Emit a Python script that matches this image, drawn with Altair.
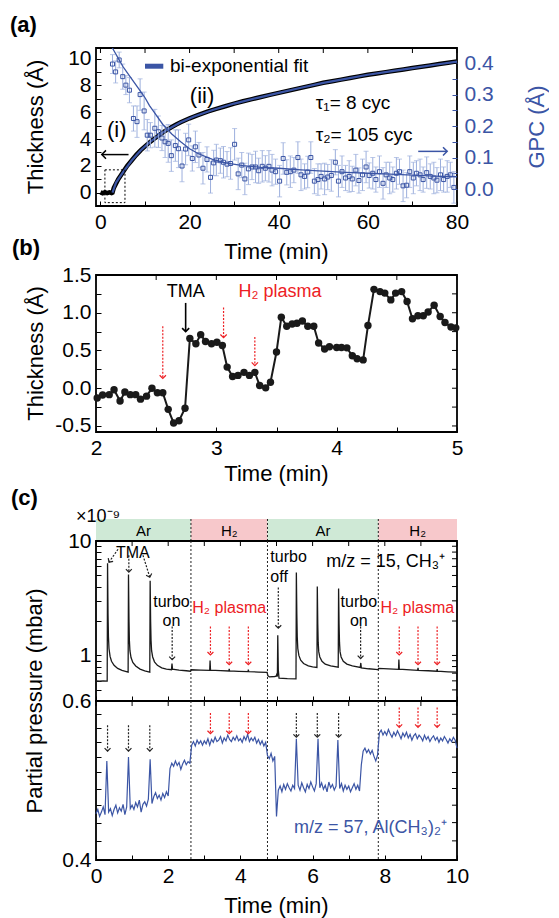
import altair as alt
import pandas as pd

FONT = "Liberation Sans"
BLUE = "#3b55a5"
LBLUE = "#9cafdd"
RED = "#ed2024"
GREEN = "#cfe9d6"
PINK = "#f7c8cb"
CHEV = "M-1,-1L0,0L1,-1"
W = 361
HA, HB, HS, HU, HL = 158, 157, 22, 160, 159
GAP1, GAP2 = 69, 87

# ---------------- (a) data ----------------
a_thick_t = [0, 0.5, 1, 1.5, 2, 2.5, 2.7, 3, 4, 5, 6, 7, 8, 9, 10, 11, 12, 13, 14, 15, 16, 17, 18,
             19, 20, 22, 24, 26, 28, 30, 32, 34, 36, 38, 40, 42, 44, 46, 48, 50, 52, 54, 56, 58,
             60, 62, 64, 66, 68, 70, 72, 74, 76, 78, 80]
a_thick_v = [0.02, -0.05, 0.03, -0.04, 0.02, -0.03, 0.0, 0.35, 1.0, 1.5, 2.0, 2.4, 2.8, 3.15, 3.45,
             3.75, 4.0, 4.25, 4.5, 4.7, 4.9, 5.08, 5.25, 5.4, 5.55, 5.8, 6.05, 6.25, 6.45, 6.65,
             6.82, 6.98, 7.14, 7.3, 7.45, 7.6, 7.75, 7.9, 8.05, 8.2, 8.32, 8.44, 8.56, 8.68, 8.8,
             8.9, 9.0, 9.1, 9.2, 9.3, 9.4, 9.5, 9.6, 9.7, 9.8]
a_fit_t = [2.7, 3.5, 5, 7, 9, 11, 13, 15, 18, 21, 25, 30, 35, 40, 45, 50, 55, 60, 65, 70, 75, 80]
a_fit_v = [0.0, 0.75, 1.5, 2.4, 3.15, 3.75, 4.25, 4.7, 5.25, 5.68, 6.15, 6.65, 7.06, 7.45, 7.83,
           8.2, 8.5, 8.8, 9.05, 9.3, 9.55, 9.78]
a_gpc_t = [2.7, 3.4, 4.2, 5.0, 5.7, 6.5, 7.4, 8.2, 8.9, 9.8,
           10.5, 11.2, 12.2, 13.0, 13.8, 14.5, 15.2, 15.9, 16.8, 17.5,
           18.3, 19.1, 19.8, 20.6, 21.3, 22.1, 23.0, 23.9, 24.7, 25.4,
           26.0, 26.9, 27.6, 28.4, 29.2, 30.1, 30.9, 31.7, 32.4, 33.2,
           34.0, 34.8, 35.5, 36.3, 37.0, 37.8, 38.5, 39.3, 40.2, 41.0,
           41.8, 42.6, 43.4, 44.3, 45.0, 45.8, 46.5, 47.2, 48.0, 48.8,
           49.5, 50.3, 51.0, 51.8, 52.7, 53.4, 54.2, 55.0, 55.8, 56.5,
           57.3, 58.0, 58.8, 59.6, 60.3, 61.1, 61.8, 62.6, 63.4, 64.1,
           64.9, 65.6, 66.4, 67.1, 67.9, 68.7, 69.4, 70.2, 70.9, 71.7,
           72.4, 73.2, 74.0, 74.8, 75.5, 76.3, 77.0, 77.8, 78.5, 79.3]
a_gpc_v = [0.397, 0.372, 0.41, 0.357, 0.33, 0.314, 0.224, 0.214, 0.30, 0.248,
           0.171, 0.171, 0.193, 0.182, 0.162, 0.15, 0.145, 0.106, 0.138, 0.128,
           0.073, 0.127, 0.156, 0.097, 0.134, 0.108, 0.066, 0.094, 0.037, 0.083,
           0.092, 0.09, 0.085, 0.079, 0.081, 0.142, 0.048, 0.076, 0.032, 0.064,
           0.07, 0.07, 0.058, 0.072, 0.066, 0.072, 0.06, 0.055, 0.025, 0.097,
           0.053, 0.055, 0.06, 0.10, 0.045, 0.04, 0.054, 0.10, 0.025, 0.03,
           0.04, 0.032, 0.038, 0.043, 0.085, 0.025, 0.055, 0.035, 0.04, 0.032,
           0.06, 0.027, 0.045, 0.07, 0.043, 0.05, 0.03, 0.055, 0.018, 0.045,
           0.035, 0.03, 0.05, 0.055, 0.01, 0.012, 0.055, 0.035, 0.05, 0.045,
           0.03, 0.052, 0.04, 0.035, 0.028, 0.045, 0.03, 0.04, 0.045, 0.005]
a_gpc_err = [0.03, 0.035, 0.025, 0.04, 0.03, 0.04, 0.04, 0.05, 0.05, 0.06,
             0.05, 0.04, 0.06, 0.05, 0.04, 0.05, 0.06, 0.05, 0.05, 0.06,
             0.05, 0.05, 0.05, 0.04, 0.05, 0.04, 0.05, 0.04, 0.05, 0.04,
             0.05, 0.04, 0.05, 0.04, 0.05, 0.05, 0.05, 0.04, 0.05, 0.05,
             0.04, 0.05, 0.04, 0.05, 0.04, 0.05, 0.05, 0.04, 0.05, 0.05,
             0.04, 0.05, 0.04, 0.05, 0.05, 0.04, 0.05, 0.05, 0.04, 0.05,
             0.04, 0.05, 0.04, 0.05, 0.04, 0.05, 0.05, 0.04, 0.05, 0.04,
             0.05, 0.04, 0.05, 0.05, 0.04, 0.05, 0.04, 0.05, 0.05, 0.04,
             0.05, 0.04, 0.05, 0.04, 0.05, 0.04, 0.05, 0.05, 0.04, 0.05,
             0.04, 0.05, 0.04, 0.05, 0.04, 0.05, 0.04, 0.05, 0.04, 0.05]
a_gfit_t = [2.6, 3, 4, 5, 6, 7, 8, 9, 10, 11, 12, 14, 16, 18, 20, 22, 25, 28, 32, 36, 40, 45, 50,
            55, 60, 65, 70, 75, 80]
a_gfit_v = [0.45, 0.44, 0.415, 0.39, 0.37, 0.35, 0.33, 0.31, 0.29, 0.265, 0.245, 0.205, 0.175,
            0.15, 0.128, 0.112, 0.095, 0.083, 0.074, 0.069, 0.066, 0.061, 0.057, 0.053, 0.05,
            0.047, 0.044, 0.041, 0.039]
a_xticks = [0, 10, 20, 30, 40, 50, 60, 70, 80]

# ---------------- (b) data ----------------
b_t = [2.01, 2.055, 2.11, 2.15, 2.20, 2.24, 2.285, 2.33, 2.37, 2.42, 2.465, 2.51, 2.555, 2.60,
       2.645, 2.69, 2.74, 2.78, 2.83, 2.87, 2.91, 2.96, 3.005, 3.05, 3.09, 3.135, 3.18, 3.23,
       3.275, 3.32, 3.36, 3.41, 3.45, 3.50, 3.54, 3.585, 3.63, 3.67, 3.715, 3.76, 3.81, 3.85,
       3.90, 3.94, 4.00, 4.04, 4.085, 4.13, 4.17, 4.22, 4.26, 4.31, 4.36, 4.40, 4.45, 4.49,
       4.54, 4.585, 4.63, 4.675, 4.72, 4.76, 4.81, 4.86, 4.90, 4.95, 4.99]
b_v = [-0.13, -0.09, -0.085, -0.02, -0.17, -0.05, -0.085, -0.085, -0.145, -0.105, 0.0, -0.06,
       -0.06, -0.28, -0.46, -0.43, -0.265, 0.66, 0.59, 0.71, 0.62, 0.59, 0.61, 0.565, 0.28,
       0.155, 0.17, 0.21, 0.17, 0.21, 0.035, 0.005, 0.08, 0.48, 0.94, 0.82, 0.85, 0.86, 0.89,
       0.82, 0.82, 0.60, 0.52, 0.55, 0.54, 0.54, 0.535, 0.43, 0.39, 0.375, 0.83, 1.31, 1.28,
       1.26, 1.17, 1.26, 1.28, 1.15, 0.92, 0.96, 0.96, 1.01, 1.10, 0.95, 0.87, 0.81, 0.80]
b_red_t = [2.555, 3.06, 3.32]
b_red_top = [0.82, 1.07, 0.68]
b_red_tip = [0.13, 0.67, 0.30]
b_xticks = [2, 2.5, 3, 3.5, 4, 4.5, 5]
b_yticks = [-0.5, -0.25, 0, 0.25, 0.5, 0.75, 1.0, 1.25, 1.5]

# ---------------- (c) data ----------------
c_band_start = [0, 2.63, 4.75, 7.82]
c_band_end = [2.63, 4.75, 7.82, 10]
c_band_gas = ["Ar", "H₂", "Ar", "H₂"]
c_switch = [2.63, 4.75, 7.82]
c_xticks = [0, 1, 2, 3, 4, 5, 6, 7, 8, 9, 10]
c_up_yticks = [0.4, 0.5, 0.6, 0.7, 0.8, 0.9, 1, 2, 3, 4, 5, 6, 7, 8, 9, 10]
c_lo_yticks = [0.4, 0.42, 0.44, 0.46, 0.48, 0.5, 0.52, 0.54, 0.56, 0.58, 0.6]

c15_points = [(0.0, 0.60), (0.1, 0.595), (0.2, 0.60), (0.31, 0.597), (0.32, 6.4), (0.333, 2.3),
              (0.345, 1.45), (0.36, 1.15), (0.39, 0.98), (0.43, 0.89), (0.5, 0.82), (0.6, 0.77),
              (0.72, 0.74), (0.89, 0.715), (0.90, 5.1), (0.913, 2.1), (0.925, 1.35), (0.94, 1.1),
              (0.97, 0.96), (1.02, 0.87), (1.1, 0.81), (1.22, 0.76), (1.35, 0.735), (1.49, 0.715),
              (1.50, 4.5), (1.513, 2.0), (1.525, 1.35), (1.54, 1.1), (1.57, 0.97), (1.62, 0.88),
              (1.7, 0.82), (1.82, 0.78), (1.95, 0.76), (2.09, 0.75), (2.105, 0.85), (2.12, 0.76),
              (2.3, 0.745), (2.5, 0.735), (2.62, 0.728), (2.64, 0.75), (2.9, 0.745), (3.15, 0.74),
              (3.16, 0.905), (3.172, 0.745), (3.45, 0.737), (3.68, 0.732), (3.69, 0.762),
              (3.70, 0.732), (3.95, 0.727), (4.21, 0.722), (4.22, 0.752), (4.23, 0.722),
              (4.5, 0.716), (4.74, 0.712), (4.76, 0.665), (4.8, 0.65), (4.95, 0.655), (4.99, 0.66),
              (5.01, 0.685), (5.025, 0.655), (5.035, 1.5), (5.05, 0.75), (5.07, 0.635),
              (5.3, 0.627), (5.54, 0.625), (5.55, 5.3), (5.563, 2.3), (5.575, 1.45), (5.59, 1.15),
              (5.62, 1.0), (5.67, 0.91), (5.75, 0.85), (5.88, 0.81), (6.0, 0.795), (6.12, 0.785),
              (6.13, 4.0), (6.143, 1.9), (6.155, 1.3), (6.17, 1.08), (6.2, 0.97), (6.26, 0.89),
              (6.35, 0.84), (6.5, 0.81), (6.71, 0.79), (6.72, 3.85), (6.733, 1.9), (6.745, 1.3),
              (6.76, 1.08), (6.79, 0.97), (6.85, 0.89), (6.95, 0.84), (7.1, 0.81), (7.32, 0.785),
              (7.335, 0.86), (7.35, 0.78), (7.55, 0.765), (7.81, 0.752), (7.83, 0.77), (8.1, 0.762),
              (8.38, 0.756), (8.39, 0.92), (8.402, 0.758), (8.7, 0.748), (8.91, 0.742),
              (8.92, 0.78), (8.93, 0.742), (9.2, 0.735), (9.44, 0.728), (9.45, 0.76),
              (9.46, 0.728), (9.75, 0.72), (10.0, 0.715)]

c57_step = 0.05
c57_p = [0.450, 0.455, 0.447, 0.452, 0.458, 0.449, 0.515, 0.452, 0.456, 0.448,
         0.455, 0.460, 0.451, 0.457, 0.453, 0.461, 0.449, 0.458, 0.520, 0.456,
         0.460, 0.455, 0.463, 0.458, 0.466, 0.452, 0.461, 0.464, 0.459, 0.467,
         0.517, 0.462, 0.470, 0.475, 0.468, 0.472, 0.466, 0.474, 0.469, 0.476,
         0.471, 0.505, 0.512, 0.508, 0.515, 0.509, 0.513, 0.504, 0.511, 0.516,
         0.510, 0.514, 0.512, 0.536, 0.541, 0.535, 0.543, 0.538, 0.542, 0.536,
         0.542, 0.538, 0.545, 0.536, 0.544, 0.540, 0.547, 0.541, 0.543, 0.548,
         0.539, 0.546, 0.542, 0.550, 0.544, 0.541, 0.547, 0.543, 0.549, 0.542,
         0.545, 0.540, 0.548, 0.543, 0.551, 0.541, 0.546, 0.542, 0.547, 0.539,
         0.544, 0.537, 0.542, 0.535, 0.540, 0.522, 0.518, 0.525, 0.515, 0.521,
         0.447, 0.478, 0.483, 0.476, 0.485, 0.479, 0.486, 0.481, 0.477, 0.484,
         0.480, 0.545, 0.484, 0.478, 0.487, 0.481, 0.476, 0.485, 0.480, 0.488,
         0.482, 0.477, 0.486, 0.545, 0.481, 0.487, 0.479, 0.484, 0.476, 0.488,
         0.481, 0.485, 0.478, 0.483, 0.543, 0.480, 0.486, 0.477, 0.484, 0.479,
         0.483, 0.476, 0.481, 0.486, 0.479, 0.484, 0.477, 0.510, 0.528, 0.532,
         0.526, 0.530, 0.524, 0.529, 0.521, 0.515, 0.523, 0.553, 0.557, 0.550,
         0.555, 0.550, 0.558, 0.552, 0.547, 0.554, 0.549, 0.556, 0.551, 0.545,
         0.553, 0.548, 0.554, 0.546, 0.551, 0.543, 0.549, 0.552, 0.545, 0.550,
         0.547, 0.542, 0.550, 0.544, 0.548, 0.541, 0.546, 0.549, 0.543, 0.547,
         0.540, 0.546, 0.542, 0.548, 0.544, 0.539, 0.545, 0.541, 0.547, 0.543,
         0.532]

# ---------------- helpers ----------------
ONE = pd.DataFrame({"k": [0]})


def lin(dom):
    return alt.Scale(domain=dom, nice=False, zero=False)


def logs(dom):
    return alt.Scale(type="log", domain=dom, nice=False)


def axis(values, orient, expr=None, color="black", pad=5):
    kw = dict(values=values, orient=orient, offset=-5, tickSize=5, tickWidth=1, tickColor=color,
              domain=False, grid=False, title=None)
    if expr is None:
        kw["labels"] = False
    else:
        kw.update(labelExpr=expr, labelFont=FONT, labelFontSize=21, labelColor=color,
                  labelPadding=pad, labelFlush=False, labelOverlap=False, labelBound=False)
    return alt.Axis(**kw)


def ptext(s, x, y, size=22, angle=0, color="black", weight="normal", align="center",
          baseline="middle"):
    return alt.Chart(ONE).mark_text(text=s, font=FONT, fontSize=size, angle=angle, color=color,
                                    fontWeight=weight, align=align, baseline=baseline).encode(
        x=alt.value(x), y=alt.value(y))


def dtext(df, X, Y, size, color="black", align="center"):
    return alt.Chart(df).mark_text(font=FONT, fontSize=size, color=color, align=align,
                                   baseline="middle").encode(x=X("x"), y=Y("y"), text="label:N")


def arrows(df, X, Y, color, dash=True, angle=0, size=45, sw=1.2, horizontal=False):
    mk = dict(color=color, strokeWidth=sw)
    if dash:
        mk["strokeDash"] = [2, 1.5]
    if horizontal:
        enc = dict(x=X("x"), x2=alt.X2("x2"), y=Y("y"))
        head = dict(x=X("x2"), y=Y("y"))
    else:
        enc = dict(x=X("x"), x2=alt.X2("x2"), y=Y("y"), y2=alt.Y2("y2"))
        head = dict(x=X("x2"), y=Y("y2"))
    rule = alt.Chart(df).mark_rule(**mk).encode(**enc)
    tip = alt.Chart(df).mark_point(shape=CHEV, filled=False, color=color, size=size,
                                   strokeWidth=sw, opacity=1, angle=angle).encode(**head)
    return rule + tip


def top_ticks(X, vals, n=5):
    return alt.Chart(pd.DataFrame({"x": vals})).mark_rule(color="black", strokeWidth=1).encode(
        x=X("x"), y=alt.value(0), y2=alt.value(n))


def right_ticks(Y, vals, n=5):
    return alt.Chart(pd.DataFrame({"y": vals})).mark_rule(color="black", strokeWidth=1).encode(
        y=Y("y"), x=alt.value(W - n), x2=alt.value(W))


def spacer(h):
    return alt.Chart(ONE).mark_text(text="").encode(
        x=alt.value(0), y=alt.value(0)).properties(
        width=W, height=h, view=alt.ViewBackground(strokeWidth=0))


# ---------------- panel (a) ----------------
AXA_X = axis(a_xticks, "bottom", "datum.value % 20 == 0 ? datum.label : ''")
AXA_Y = axis(list(range(0, 11)), "left", "datum.value % 2 == 0 ? datum.label : ''")
AXA_G = axis([0, 0.05, 0.1, 0.15, 0.2, 0.25, 0.3, 0.35, 0.4], "right",
             "abs(datum.value*10 - round(datum.value*10)) < 0.001 ? format(datum.value, '.1f') : ''",
             color=BLUE, pad=7)


def XA(f):
    return alt.X(f, type="quantitative", scale=lin([-1, 80]), axis=AXA_X)


def YA(f):
    return alt.Y(f, type="quantitative", scale=lin([-1, 10.8]), axis=AXA_Y)


def GA(f):
    return alt.Y(f, type="quantitative", scale=lin([-0.054, 0.448]), axis=AXA_G)


df_thick = pd.DataFrame({"t": a_thick_t, "v": a_thick_v})
df_fit = pd.DataFrame({"t": a_fit_t, "v": a_fit_v})
df_gpc = pd.DataFrame({"t": a_gpc_t, "g": a_gpc_v, "e": a_gpc_err})
df_gpc["lo"] = df_gpc["g"] - df_gpc["e"]
df_gpc["hi"] = df_gpc["g"] + df_gpc["e"]
df_gfit = pd.DataFrame({"t": a_gfit_t, "g": a_gfit_v})

a_box = pd.DataFrame({"x1": [1.0], "x2": [5.5], "y1": [-0.75], "y2": [1.7]})
a_leg = pd.DataFrame({"x": [10.0], "x2": [14.1], "y": [9.44]})
a_leg_txt = pd.DataFrame({"x": [15.6], "y": [9.44], "label": ["bi-exponential fit"]})
a_roman = pd.DataFrame({"x": [3.65, 22.8], "y": [4.66, 7.2], "label": ["(i)", "(ii)"]})
a_tau = pd.DataFrame({"x": [48.3, 48.3], "y": [6.7, 4.33],
                      "label": ["τ₁= 8 cyc", "τ₂= 105 cyc"]})
a_arr_l = pd.DataFrame({"x": [6.3], "x2": [0.3], "y": [2.84]})
a_arr_r = pd.DataFrame({"x": [71.3], "x2": [77.8], "y": [3.08]})

thick_layer = alt.layer(
    alt.Chart(df_thick).mark_line(color="black", strokeWidth=4.5).encode(x=XA("t"), y=YA("v")),
    alt.Chart(df_fit).mark_line(color=BLUE, strokeWidth=2.2).encode(x=XA("t"), y=YA("v")),
    alt.Chart(a_box).mark_rect(fillOpacity=0, stroke="black", strokeDash=[2, 2],
                               strokeWidth=1).encode(x=XA("x1"), x2=alt.X2("x2"),
                                                      y=YA("y1"), y2=alt.Y2("y2")),
    alt.Chart(a_leg).mark_rule(color=BLUE, strokeWidth=5).encode(x=XA("x"), x2=alt.X2("x2"),
                                                                 y=YA("y")),
    top_ticks(XA, a_xticks),
    dtext(a_leg_txt, XA, YA, 19, align="left"),
    dtext(a_roman, XA, YA, 22),
    dtext(a_tau, XA, YA, 19, align="left"),
    arrows(a_arr_l, XA, YA, "black", dash=False, angle=90, size=70, sw=1.5, horizontal=True),
    arrows(a_arr_r, XA, YA, BLUE, dash=False, angle=270, size=70, sw=1.5, horizontal=True),
    ptext("(a)", -86, -23, size=22, weight="bold", align="left"),
    ptext("Thickness (Å)", -60, HA / 2, angle=270),
    ptext("GPC (Å)", W + 80, HA / 2, angle=270, color=BLUE),
    ptext("Time (min)", W / 2, HA + 46),
)
gpc_layer = alt.layer(
    alt.Chart(df_gpc).mark_rule(color=LBLUE, strokeWidth=1).encode(x=XA("t"), y=GA("lo"),
                                                                   y2=alt.Y2("hi")),
    alt.Chart(df_gpc).mark_tick(orient="horizontal", size=5, thickness=1, color=LBLUE).encode(
        x=XA("t"), y=GA("lo")),
    alt.Chart(df_gpc).mark_tick(orient="horizontal", size=5, thickness=1, color=LBLUE).encode(
        x=XA("t"), y=GA("hi")),
    alt.Chart(df_gpc).mark_point(shape="square", filled=False, size=16, strokeWidth=1,
                                 color=BLUE, opacity=1).encode(x=XA("t"), y=GA("g")),
    alt.Chart(df_gfit).mark_line(color=BLUE, strokeWidth=1.3, clip=True).encode(x=XA("t"),
                                                                               y=GA("g")),
)
panel_a = alt.layer(thick_layer, gpc_layer).resolve_scale(y="independent").properties(
    width=W, height=HA)

# ---------------- panel (b) ----------------
AXB_X = axis(b_xticks, "bottom", "datum.value % 1 == 0 ? format(datum.value, 'd') : ''")
AXB_Y = axis(b_yticks, "left",
             "abs(datum.value*2 - round(datum.value*2)) < 0.001 ? "
             "(datum.value < 0 ? '-' : '') + format(abs(datum.value), '.1f') : ''")


def XB(f):
    return alt.X(f, type="quantitative", scale=lin([2, 5]), axis=AXB_X)


def YB(f):
    return alt.Y(f, type="quantitative", scale=lin([-0.58, 1.5]), axis=AXB_Y)


df_b = pd.DataFrame({"t": b_t, "v": b_v})
b_red = pd.DataFrame({"x": b_red_t, "x2": b_red_t, "y": b_red_top, "y2": b_red_tip})
b_tma = pd.DataFrame({"x": [2.745], "x2": [2.745], "y": [1.13], "y2": [0.75]})
b_lbl1 = pd.DataFrame({"x": [2.745], "y": [1.27], "label": ["TMA"]})
b_lbl2 = pd.DataFrame({"x": [3.53], "y": [1.27], "label": ["H₂ plasma"]})

panel_b = alt.layer(
    top_ticks(XB, b_xticks),
    right_ticks(YB, b_yticks),
    alt.Chart(df_b).mark_line(color="#1a1a1a", strokeWidth=2).encode(x=XB("t"), y=YB("v")),
    alt.Chart(df_b).mark_point(filled=True, color="#1a1a1a", size=55, opacity=1).encode(
        x=XB("t"), y=YB("v")),
    arrows(b_red, XB, YB, RED, dash=True, size=40),
    arrows(b_tma, XB, YB, "black", dash=False, size=50, sw=1.6),
    dtext(b_lbl1, XB, YB, 18),
    dtext(b_lbl2, XB, YB, 18, color=RED),
    ptext("(b)", -84, -27, size=22, weight="bold", align="left"),
    ptext("Thickness (Å)", -60, HB / 2, angle=270),
    ptext("Time (min)", W / 2, HB + 42),
).properties(width=W, height=HB)

# ---------------- panel (c) ----------------
df_band = pd.DataFrame({"s": c_band_start, "e": c_band_end, "gas": c_band_gas})
df_band["m"] = (df_band["s"] + df_band["e"]) / 2
df_sw = pd.DataFrame({"t": c_switch})


def XS(f):
    return alt.X(f, type="quantitative", scale=lin([0, 10]), axis=None)


AXC_XU = axis(c_xticks, "bottom")
AXC_XL = axis(c_xticks, "bottom", "datum.value % 2 == 0 ? datum.label : ''")
AXC_YU = axis(c_up_yticks, "left", "datum.value == 1 ? '1' : datum.value == 10 ? '10' : ''")
AXC_YL = axis(c_lo_yticks, "left", "datum.value == 0.4 ? '0.4' : datum.value == 0.6 ? '0.6' : ''")


def XU(f):
    return alt.X(f, type="quantitative", scale=lin([0, 10]), axis=AXC_XU)


def XL(f):
    return alt.X(f, type="quantitative", scale=lin([0, 10]), axis=AXC_XL)


def YU(f):
    return alt.Y(f, type="quantitative", scale=logs([0.4, 10]), axis=AXC_YU)


def YL(f):
    return alt.Y(f, type="quantitative", scale=logs([0.4, 0.6]), axis=AXC_YL)


def vlines(X, H):
    return alt.Chart(df_sw).mark_rule(color="#222222", strokeWidth=1, strokeDash=[2, 2]).encode(
        x=X("t"), y=alt.value(0), y2=alt.value(H))


strip = alt.layer(
    alt.Chart(df_band).mark_rect().encode(
        x=XS("s"), x2=alt.X2("e"), y=alt.value(0), y2=alt.value(HS),
        color=alt.Color("gas:N", scale=alt.Scale(domain=["Ar", "H₂"], range=[GREEN, PINK]),
                        legend=None)),
    alt.Chart(df_band).mark_text(font=FONT, fontSize=15, baseline="middle").encode(
        x=XS("m"), y=alt.value(HS / 2 + 1), text="gas:N"),
    vlines(XS, HS),
    ptext("(c)", -85, -21, size=22, weight="bold", align="left"),
    ptext("×10⁻⁹", -20, 3, size=18, align="left", baseline="alphabetic"),
).properties(width=W, height=HS, view=alt.ViewBackground(strokeWidth=0))

df15 = pd.DataFrame({"t": [p[0] for p in c15_points], "p": [p[1] for p in c15_points]})
df57 = pd.DataFrame({"t": [round(i * c57_step, 3) for i in range(len(c57_p))], "p": c57_p})

u_tma_a1 = pd.DataFrame({"x": [0.61], "x2": [0.36], "y": [8.47], "y2": [6.53]})
u_tma_a2 = pd.DataFrame({"x": [0.91], "x2": [0.91], "y": [7.51], "y2": [5.35]})
u_tma_a3 = pd.DataFrame({"x": [1.30], "x2": [1.49], "y": [7.51], "y2": [4.83]})
u_turbo = pd.DataFrame({"x": [2.11, 5.05, 7.33], "x2": [2.11, 5.05, 7.33],
                        "y": [1.79, 3.93, 1.79], "y2": [0.92, 1.73, 0.94]})
u_red_t = [3.17, 3.69, 4.22, 8.40, 8.92, 9.45]
u_red = pd.DataFrame({"x": u_red_t, "x2": u_red_t, "y": [1.79] * 6,
                      "y2": [1.01, 0.83, 0.83, 1.01, 0.83, 0.83]})
u_txt_black = pd.DataFrame({"x": [1.02, 2.09, 2.09, 7.28, 7.28],
                            "y": [7.82, 2.95, 1.98, 2.95, 1.98],
                            "label": ["TMA", "turbo", "on", "turbo", "on"]})
u_txt_left = pd.DataFrame({"x": [4.83, 4.83], "y": [7.25, 4.87], "label": ["turbo", "off"]})
u_txt_red = pd.DataFrame({"x": [3.69, 8.9], "y": [2.58, 2.58], "label": ["H₂ plasma", "H₂ plasma"]})
u_txt_mz = pd.DataFrame({"x": [9.67], "y": [6.57], "label": ["m/z = 15, CH₃⁺"]})

upper = alt.layer(
    top_ticks(XU, c_xticks),
    right_ticks(YU, c_up_yticks),
    vlines(XU, HU),
    alt.Chart(df15).mark_line(color="#1a1a1a", strokeWidth=1.3).encode(x=XU("t"), y=YU("p")),
    arrows(u_tma_a1, XU, YU, "#222222", angle=34.7, size=35),
    arrows(u_tma_a2, XU, YU, "#222222", angle=0, size=35),
    arrows(u_tma_a3, XU, YU, "#222222", angle=342.4, size=35),
    arrows(u_turbo, XU, YU, "#222222", size=35),
    arrows(u_red, XU, YU, RED, size=35),
    dtext(u_txt_black, XU, YU, 16),
    dtext(u_txt_left, XU, YU, 16, align="left"),
    dtext(u_txt_red, XU, YU, 16, color=RED),
    dtext(u_txt_mz, XU, YU, 18, align="right"),
    ptext("Partial pressure (mbar)", -61, HU, angle=270),
).properties(width=W, height=HU)

l_black_t = [0.32, 0.90, 1.49, 5.55, 6.13, 6.72]
l_black = pd.DataFrame({"x": l_black_t, "x2": l_black_t,
                        "y": [0.564, 0.564, 0.564, 0.582, 0.582, 0.582],
                        "y2": [0.528, 0.528, 0.528, 0.547, 0.547, 0.547]})
l_red_t = [3.17, 3.69, 4.22, 8.40, 8.92, 9.45]
l_red = pd.DataFrame({"x": l_red_t, "x2": l_red_t,
                      "y": [0.582, 0.582, 0.582, 0.590, 0.590, 0.590],
                      "y2": [0.552, 0.552, 0.552, 0.561, 0.561, 0.561]})
l_txt = pd.DataFrame({"x": [9.72], "y": [0.434], "label": ["m/z = 57, Al(CH₃)₂⁺"]})

lower = alt.layer(
    top_ticks(XL, c_xticks),
    right_ticks(YL, c_lo_yticks),
    vlines(XL, HL),
    alt.Chart(df57).mark_line(color=BLUE, strokeWidth=1.2).encode(x=XL("t"), y=YL("p")),
    arrows(l_black, XL, YL, "#222222", size=35),
    arrows(l_red, XL, YL, RED, size=35),
    dtext(l_txt, XL, YL, 18, color=BLUE, align="right"),
    ptext("Time (min)", W / 2, HL + 46),
).properties(width=W, height=HL)

chart = alt.vconcat(panel_a, spacer(GAP1), panel_b, spacer(GAP2), strip, upper, lower,
                    spacing=0, bounds="flush").properties(
    padding={"left": 1, "top": 5, "right": 0, "bottom": 0}
).configure_view(stroke="black", strokeWidth=1.8)

chart.save("out.html", embed_options={"renderer": "svg", "actions": False})
